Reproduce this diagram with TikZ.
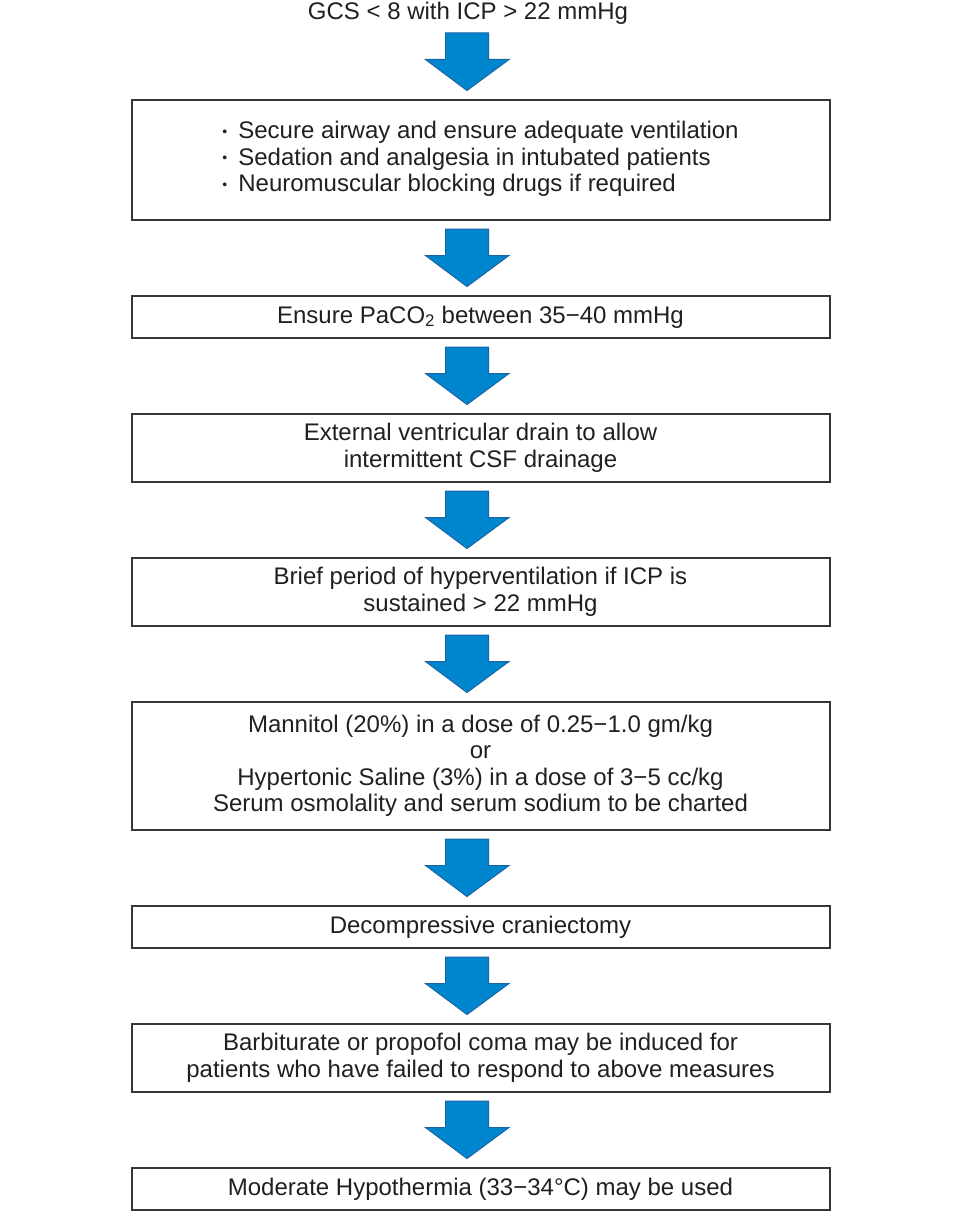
\documentclass[tikz,border=0pt]{standalone}
\usepackage{fontspec}
\setmainfont{Liberation Sans}
\usetikzlibrary{calc}
\definecolor{txt}{RGB}{35,31,32}
\definecolor{bordc}{RGB}{55,55,55}
\definecolor{arrfill}{RGB}{0,134,206}
\definecolor{arrdraw}{RGB}{25,100,165}
\tikzset{
  box/.style={draw=bordc, line width=2pt, fill=white, minimum width=698pt,
    inner sep=0pt, align=center, text=txt, font=\fontsize{24}{26.5}\selectfont},
  header/.style={inner sep=0pt, minimum height=20pt, text=txt, font=\fontsize{24}{26.5}\selectfont},
  blockarrow/.style={fill=arrfill, draw=arrdraw, line width=1pt, line join=miter},
}
\newcommand\bul{\makebox[16pt][l]{\raisebox{2.5pt}{\fontsize{14}{14}\selectfont •}}}
\newcommand\flowarrow[2]{%
  \draw[blockarrow] let \p1=(#1.south), \p2=(#2.north) in
    (445.5pt,\y1-8pt) -- (488.5pt,\y1-8pt) -- (488.5pt,\y2+39.5pt) --
    (509pt,\y2+39.5pt) -- (467pt,\y2+8.5pt) -- (425.5pt,\y2+39.5pt) --
    (445.5pt,\y2+39.5pt) -- cycle;}
\begin{document}
\begin{tikzpicture}[x=1pt,y=-1pt]
\fill[white] (0,0) rectangle (960,1212);
\useasboundingbox (0,0) rectangle (960,1212);

\node[header] (h) at (468,13.5) {GCS < 8 with ICP > 22 mmHg};

\node[box, minimum height=120pt] (b1) at (480.5,160)
  {\begin{tabular}{@{}l@{}}
   \bul Secure airway and ensure adequate ventilation\\
   \bul Sedation and analgesia in intubated patients\\
   \bul Neuromuscular blocking drugs if required
   \end{tabular}};
\node[box, minimum height=42pt] (b2) at (480.5,317)
  {Ensure PaCO\textsubscript{2} between 35−40 mmHg};
\node[box, minimum height=68pt] (b3) at (480.5,448)
  {External ventricular drain to allow\\intermittent CSF drainage};
\node[box, minimum height=68pt] (b4) at (480.5,592)
  {Brief period of hyperventilation if ICP is\\sustained > 22 mmHg};
\node[box, minimum height=128pt] (b5) at (480.5,766)
  {Mannitol (20\%) in a dose of 0.25−1.0 gm/kg\\or\\Hypertonic Saline (3\%) in a dose of 3−5 cc/kg\\Serum osmolality and serum sodium to be charted};
\node[box, minimum height=42pt] (b6) at (480.5,927)
  {Decompressive craniectomy};
\node[box, minimum height=68pt] (b7) at (480.5,1058)
  {Barbiturate or propofol coma may be induced for\\patients who have failed to respond to above measures};
\node[box, minimum height=42pt] (b8) at (480.5,1189)
  {Moderate Hypothermia (33−34°C) may be used};

\flowarrow{h}{b1}
\flowarrow{b1}{b2}
\flowarrow{b2}{b3}
\flowarrow{b3}{b4}
\flowarrow{b4}{b5}
\flowarrow{b5}{b6}
\flowarrow{b6}{b7}
\flowarrow{b7}{b8}
\end{tikzpicture}
\end{document}
